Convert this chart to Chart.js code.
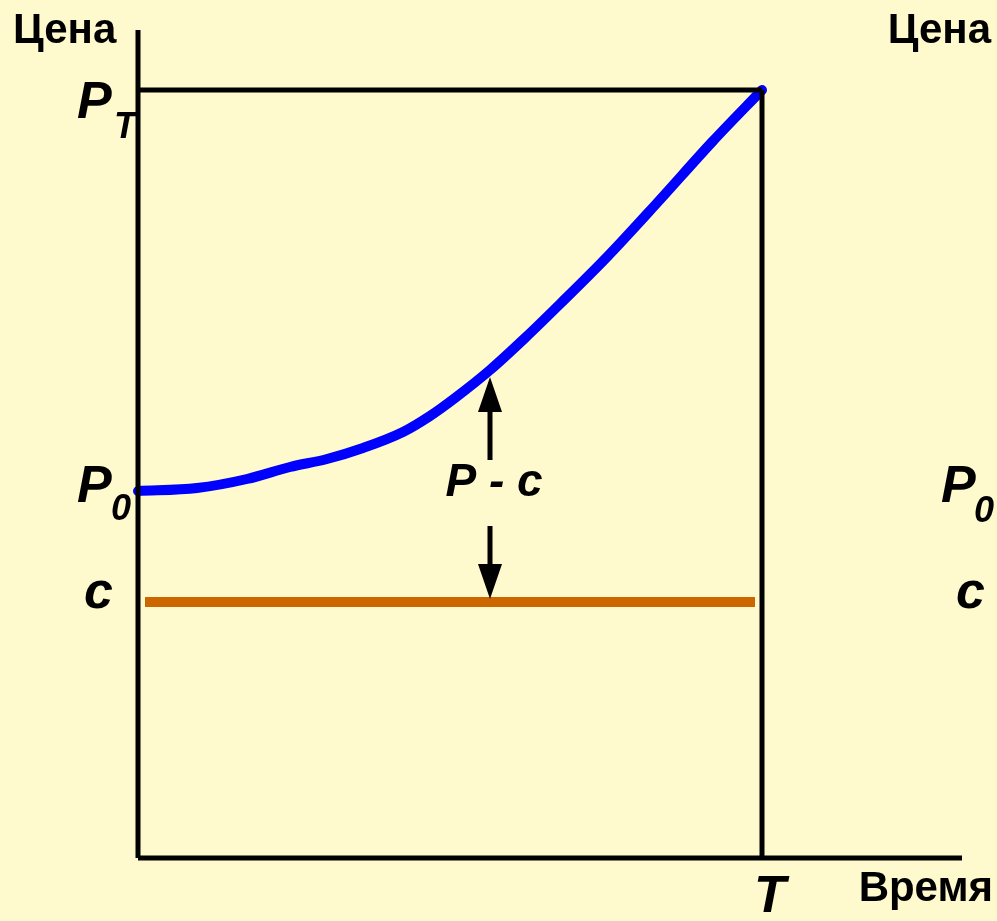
<!DOCTYPE html>
<html>
<head>
<meta charset="utf-8">
<script src="https://cdn.jsdelivr.net/npm/chart.js@4.4.1/dist/chart.umd.min.js"></script>
<style>
    html, body { margin: 0; padding: 0; background: #FFFACD; }
    #wrap { width: 997px; height: 921px; }
</style>
</head>
<body>
<div id="wrap"><canvas id="priceChart" width="997" height="921"></canvas></div>
<script>
// axis extents (time / price units)
const timeMax = 824;
const priceMax = 828;
const timeT = 624;
const priceT = 768;
const price0 = 367;
const costC = 256;

// price path P(t)
const curveTime  = [0, 59, 109, 152, 189, 225, 265, 292, 317, 352, 387, 422, 469, 519, 575, 624];
const curvePrice = [367, 370, 379, 391, 399, 410, 426, 442, 460, 488, 520, 554, 601, 655, 717, 768];

// cost line c
const costTime = [7, 617];

// P - c arrows
const arrowTime = 352;
const arrowUp = [398, 481];   // tail, tip
const arrowDown = [332, 259]; // tail, tip

function seg(xs, ys) {
    return xs.map((x, i) => ({ x: x, y: ys[i] }));
}

function blackLine(points) {
    return {
        data: points,
        borderColor: '#000',
        borderWidth: 5,
        pointRadius: 0,
        showLine: true,
        clip: false
    };
}

const labelFont = '"Liberation Sans", Arial, sans-serif';

const textPlugin = {
    id: 'textPlugin',
    afterDatasetsDraw(chart) {
        const ctx = chart.ctx;
        const xs = chart.scales.x, ys = chart.scales.y;

        // arrows
        const ax = xs.getPixelForValue(arrowTime);
        function arrow(tail, tip) {
            const t0 = ys.getPixelForValue(tail), t1 = ys.getPixelForValue(tip);
            const dir = t1 < t0 ? 1 : -1;
            const headLen = 35, halfW = 12;
            ctx.save();
            ctx.strokeStyle = '#000';
            ctx.lineWidth = 5;
            ctx.beginPath();
            ctx.moveTo(ax, t0);
            ctx.lineTo(ax, t1 + dir * headLen);
            ctx.stroke();
            ctx.fillStyle = '#000';
            ctx.beginPath();
            ctx.moveTo(ax, t1);
            ctx.lineTo(ax - halfW, t1 + dir * headLen);
            ctx.lineTo(ax + halfW, t1 + dir * headLen);
            ctx.closePath();
            ctx.fill();
            ctx.restore();
        }
        arrow(arrowUp[0], arrowUp[1]);
        arrow(arrowDown[0], arrowDown[1]);

        ctx.save();
        ctx.fillStyle = '#000';
        ctx.textBaseline = 'alphabetic';

        // axis titles
        ctx.font = 'bold 42px ' + labelFont;
        ctx.textAlign = 'left';
        ctx.fillText('Цена', 13, 43);
        ctx.textAlign = 'right';
        ctx.fillText('Цена', 991, 43);
        ctx.fillText('Время', 993, 901);

        const big = 'italic bold 52px ' + labelFont;
        const sub = 'italic bold 36px ' + labelFont;
        const yPT = ys.getPixelForValue(priceT);
        const yP0 = ys.getPixelForValue(price0);
        const yC = ys.getPixelForValue(costC);
        const xT = xs.getPixelForValue(timeT);

        ctx.textAlign = 'left';
        // P_T
        ctx.font = big; ctx.fillText('P', 77, yPT + 28);
        ctx.font = sub; ctx.fillText('T', 114, yPT + 48);
        // P_0 left
        ctx.font = big; ctx.fillText('P', 77, yP0 + 11);
        ctx.font = sub; ctx.fillText('0', 111, yP0 + 29);
        // c left
        ctx.font = big; ctx.fillText('c', 84, yC + 6);
        // P_0 right
        ctx.font = big; ctx.fillText('P', 941, yP0 + 11);
        ctx.font = sub; ctx.fillText('0', 974, yP0 + 31);
        // c right
        ctx.font = big; ctx.fillText('c', 956, yC + 6);
        // T
        ctx.font = big; ctx.textAlign = 'center';
        ctx.fillText('T', xT + 8, 912);

        // P - c
        ctx.font = 'italic bold 46px ' + labelFont;
        ctx.fillText('P - c', ax + 4, 496);
        ctx.restore();
    }
};

new Chart(document.getElementById('priceChart').getContext('2d'), {
    type: 'scatter',
    data: {
        datasets: [
            blackLine(seg([0, 0], [0, priceMax])),
            blackLine(seg([0, timeMax], [0, 0])),
            blackLine(seg([0, timeT], [priceT, priceT])),
            blackLine(seg([timeT, timeT], [0, priceT])),
            {
                data: seg(costTime, [costC, costC]),
                borderColor: '#CC6600',
                borderWidth: 10,
                pointRadius: 0,
                showLine: true,
                clip: false
            },
            {
                data: seg(curveTime, curvePrice),
                borderColor: '#0000FF',
                borderWidth: 10,
                borderCapStyle: 'round',
                borderJoinStyle: 'round',
                cubicInterpolationMode: 'monotone',
                pointRadius: 0,
                showLine: true,
                clip: false
            }
        ]
    },
    options: {
        responsive: false,
        animation: false,
        layout: { padding: { left: 138, right: 35, top: 30, bottom: 63 } },
        plugins: {
            legend: { display: false },
            tooltip: { enabled: false }
        },
        scales: {
            x: { type: 'linear', min: 0, max: timeMax, display: false },
            y: { type: 'linear', min: 0, max: priceMax, display: false }
        }
    },
    plugins: [textPlugin]
});
</script>
</body>
</html>
